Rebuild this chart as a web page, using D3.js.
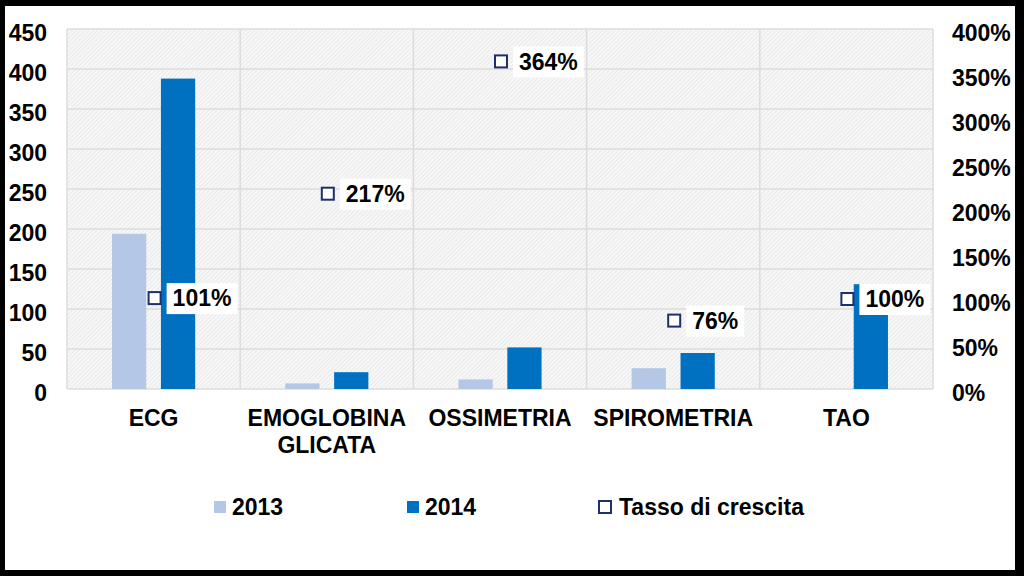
<!DOCTYPE html>
<html>
<head>
<meta charset="utf-8">
<script src="https://cdn.jsdelivr.net/npm/d3@7"></script>
<style>
  html, body { margin: 0; padding: 0; background: #000; }
  svg { display: block; }
  text { font-family: "Liberation Sans", Arial, sans-serif; font-weight: bold; fill: #000; }
</style>
</head>
<body>
<svg id="chart" width="1024" height="576"></svg>
<script>
const categories = ["ECG", "EMOGLOBINA GLICATA", "OSSIMETRIA", "SPIROMETRIA", "TAO"];
const categoryLines = [["ECG"], ["EMOGLOBINA", "GLICATA"], ["OSSIMETRIA"], ["SPIROMETRIA"], ["TAO"]];
const seriesNames = ["2013", "2014"];
const values2013 = [194, 7, 12, 26, 0];
const values2014 = [388, 21, 52, 45, 131];
const growth = [101, 217, 364, 76, 100];
const leftTicks = [0, 50, 100, 150, 200, 250, 300, 350, 400, 450];
const rightTicks = [0, 50, 100, 150, 200, 250, 300, 350, 400];
const growthName = "Tasso di crescita";

const colors = { "2013": "#B4C7E7", "2014": "#0070C0" };
const markerColor = "#1F2F6B";
const FS = 23;

const svg = d3.select("#chart");
// frame
svg.append("rect").attr("x", 0).attr("y", 0).attr("width", 1024).attr("height", 576).attr("fill", "#000");
svg.append("rect").attr("x", 5).attr("y", 6).attr("width", 1010).attr("height", 564).attr("fill", "#fff");

const plot = { left: 67, right: 933, top: 29, bottom: 389 };

const defs = svg.append("defs");
const pat = defs.append("pattern").attr("id", "hatch").attr("patternUnits", "userSpaceOnUse")
  .attr("width", 3).attr("height", 3).attr("patternTransform", "rotate(45)");
pat.append("rect").attr("width", 3).attr("height", 3).attr("fill", "#f7f7f7");
pat.append("line").attr("x1", 0).attr("y1", 0).attr("x2", 0).attr("y2", 3)
  .attr("stroke", "#dedede").attr("stroke-width", 1);

const x0 = d3.scaleBand().domain(categories).range([plot.left, plot.right]).paddingInner(0).paddingOuter(0);
const bw = x0.bandwidth();
const x1 = d3.scaleBand().domain(seriesNames).range([bw * 0.26, bw * 0.74]).paddingInner(0.3);
const yL = d3.scaleLinear().domain([0, 450]).range([plot.bottom, plot.top]);
const yR = d3.scaleLinear().domain([0, 4]).range([plot.bottom, plot.top]);

svg.append("rect").attr("x", plot.left).attr("y", plot.top)
  .attr("width", plot.right - plot.left).attr("height", plot.bottom - plot.top)
  .attr("fill", "url(#hatch)");

// horizontal gridlines
const gridG = svg.append("g");
gridG.selectAll("line.h").data(leftTicks).join("line")
  .attr("x1", plot.left).attr("x2", plot.right)
  .attr("y1", d => yL(d)).attr("y2", d => yL(d))
  .attr("stroke", "#dcdcdc").attr("stroke-width", 1.5);
// vertical separators
const edges = categories.map(c => x0(c)).concat([plot.right]);
gridG.selectAll("line.v").data(edges).join("line")
  .attr("x1", d => d).attr("x2", d => d)
  .attr("y1", plot.top).attr("y2", plot.bottom)
  .attr("stroke", "#dcdcdc").attr("stroke-width", 1.5);

// bars
const barData = [];
categories.forEach((c, i) => {
  barData.push({ c, s: "2013", v: values2013[i] });
  barData.push({ c, s: "2014", v: values2014[i] });
});
svg.append("g").selectAll("rect").data(barData).join("rect")
  .attr("x", d => x0(d.c) + x1(d.s))
  .attr("width", x1.bandwidth())
  .attr("y", d => yL(d.v))
  .attr("height", d => yL(0) - yL(d.v))
  .attr("fill", d => colors[d.s]);

// left axis
const axL = d3.axisLeft(yL).tickValues(leftTicks).tickSize(0).tickPadding(0);
const gL = svg.append("g").attr("transform", "translate(47,0)").call(axL);
gL.select(".domain").remove();
gL.selectAll("text").style("font-size", FS + "px").attr("dy", "0.38em").attr("y", 3).attr("x", 0);

// right axis
const axR = d3.axisRight(yR).tickValues(rightTicks.map(t => t / 100)).tickSize(0).tickPadding(0)
  .tickFormat(d3.format(".0%"));
const gR = svg.append("g").attr("transform", "translate(952,0)").call(axR);
gR.select(".domain").remove();
gR.selectAll("text").style("font-size", FS + "px").attr("dy", "0.38em").attr("y", 3).attr("x", 0);

// category labels
const catG = svg.append("g");
categories.forEach((c, i) => {
  const t = catG.append("text").attr("x", x0(c) + bw / 2).attr("y", 426)
    .attr("text-anchor", "middle").style("font-size", FS + "px");
  categoryLines[i].forEach((ln, j) => {
    t.append("tspan").attr("x", x0(c) + bw / 2).attr("dy", j === 0 ? 0 : 27).text(ln);
  });
});

// growth markers & labels
const mG = svg.append("g");
categories.forEach((c, i) => {
  const cx = x0(c) + bw / 2 + 1;
  const cy = yR(growth[i] / 100);
  const label = growth[i] + "%";
  const txt = mG.append("text").attr("x", cx + 18).attr("y", cy).attr("dy", "0.36em")
    .style("font-size", FS + "px").text(label);
  const w = txt.node().getComputedTextLength();
  mG.insert("rect", "text").attr("x", cx + 12).attr("y", cy - 15)
    .attr("width", w + 12).attr("height", 31).attr("fill", "#fff");
  mG.append("rect").attr("x", cx - 6).attr("y", cy - 6).attr("width", 12).attr("height", 12)
    .attr("fill", "#fff").attr("stroke", markerColor).attr("stroke-width", 2);
});

// legend
const lg = svg.append("g");
const ly = 507;
[{ x: 214, s: "2013" }, { x: 407, s: "2014" }].forEach(d => {
  lg.append("rect").attr("x", d.x).attr("y", ly - 6).attr("width", 12).attr("height", 12).attr("fill", colors[d.s]);
  lg.append("text").attr("x", d.x + 18).attr("y", ly).attr("dy", "0.36em").style("font-size", FS + "px").text(d.s);
});
lg.append("rect").attr("x", 599).attr("y", ly - 6).attr("width", 12).attr("height", 12)
  .attr("fill", "#fff").attr("stroke", markerColor).attr("stroke-width", 2);
lg.append("text").attr("x", 619).attr("y", ly).attr("dy", "0.36em").style("font-size", FS + "px").text(growthName);
</script>
</body>
</html>
